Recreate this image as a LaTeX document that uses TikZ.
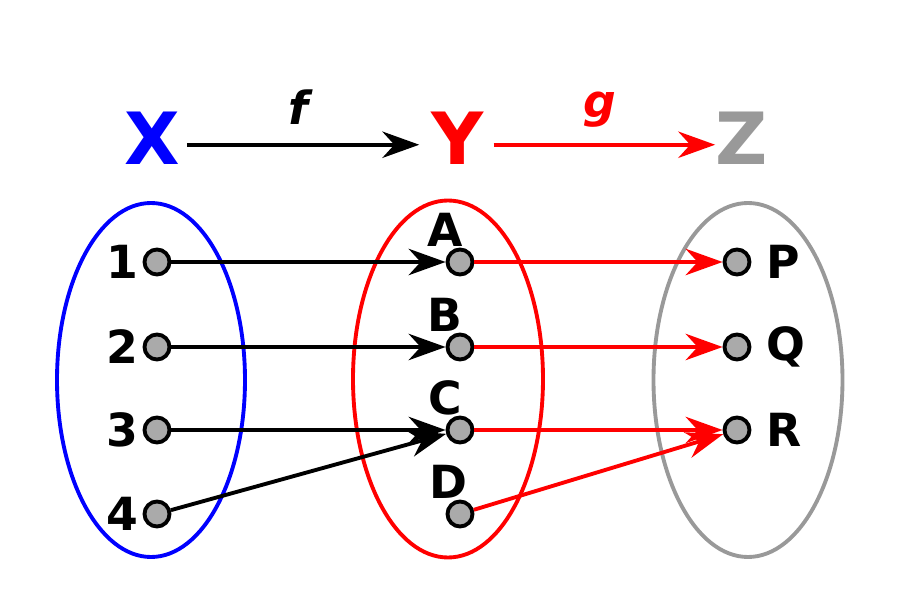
\documentclass[tikz,border=0pt]{standalone}
\usepackage{fontspec}
\setmainfont{DejaVu Sans}
\usetikzlibrary{arrows.meta,positioning}
\definecolor{setblue}{HTML}{0000FF}
\definecolor{setred}{HTML}{FF0000}
\definecolor{setgray}{HTML}{999999}
\definecolor{dotgray}{HTML}{AAAAAA}

\begin{document}
\begin{tikzpicture}[every node/.style={font=\bfseries}]
\tikzset{elem/.style={circle,draw=black,fill=dotgray,line width=1.1pt,minimum size=0.25cm,inner sep=0pt},
  setname/.style={font=\fontsize{20.5}{24}\selectfont\bfseries,inner sep=0pt,anchor=base},
  lbl/.style={font=\fontsize{13}{15}\selectfont\bfseries,inner sep=1pt},
  toplbl/.style={lbl,inner sep=0pt,xshift=-0.15cm},
  fname/.style={font=\fontsize{13}{15}\selectfont\bfseries\itshape},
  mapto/.style={-{Stealth[length=10.5pt,width=7.5pt,inset=3.4pt]},line width=1.1pt},
  setline/.style={line width=1.1pt}}
\useasboundingbox (0,0) rectangle (9,6);
% the three sets
\draw[setline,setblue] (1.51,2.20) ellipse [x radius=0.94,y radius=1.77];
\draw[setline,setred] (4.48,2.21) ellipse [x radius=0.95,y radius=1.785];
\draw[setline,setgray] (7.48,2.20) ellipse [x radius=0.945,y radius=1.77];
\node[setname,setblue] (X) at (1.52,4.35) {X};
\node[setname,setred] (Y) at (4.58,4.35) {Y};
\node[setname,setgray] (Z) at (7.42,4.35) {Z};
\draw[mapto,shorten <=1.8pt,shorten >=3.4pt] ([yshift=-0.06cm]X.east)--node[fname,above=2pt,xshift=-0.07cm]{f} ([yshift=-0.06cm]Y.west);
\draw[mapto,setred,shorten <=2.5pt,shorten >=0pt] ([yshift=-0.06cm]Y.east)--node[fname,above=1pt]{g} ([yshift=-0.06cm]Z.west);
% elements of X
\node[elem,label={[lbl]left:1}] (x1) at (1.57,3.38) {};
\node[elem,label={[lbl]left:2}] (x2) at (1.57,2.53) {};
\node[elem,label={[lbl]left:3}] (x3) at (1.57,1.70) {};
\node[elem,label={[lbl]left:4}] (x4) at (1.57,0.86) {};
% elements of Y
\node[elem,label={[toplbl]above:A}] (ya) at (4.60,3.38) {};
\node[elem,label={[toplbl]above:B}] (yb) at (4.60,2.53) {};
\node[elem,label={[toplbl]above:C}] (yc) at (4.60,1.70) {};
\node[elem,label={[toplbl,xshift=0.03cm]above:D}] (yd) at (4.60,0.86) {};
% elements of Z
\node[elem,label={[lbl,label distance=3pt]right:P}] (zp) at (7.37,3.38) {};
\node[elem,label={[lbl,label distance=3pt]right:Q}] (zq) at (7.37,2.53) {};
\node[elem,label={[lbl,label distance=3pt]right:R}] (zr) at (7.37,1.70) {};
% f
\draw[mapto] (x1)--(ya);
\draw[mapto] (x2)--(yb);
\draw[mapto] (x3)--(yc);
\draw[mapto] (x4)--(yc);
% g
\draw[mapto,setred] (ya)--(zp);
\draw[mapto,setred] (yb)--(zq);
\draw[mapto,setred] (yc)--(zr);
\draw[mapto,setred] (yd)--(zr);
\end{tikzpicture}
\end{document}
